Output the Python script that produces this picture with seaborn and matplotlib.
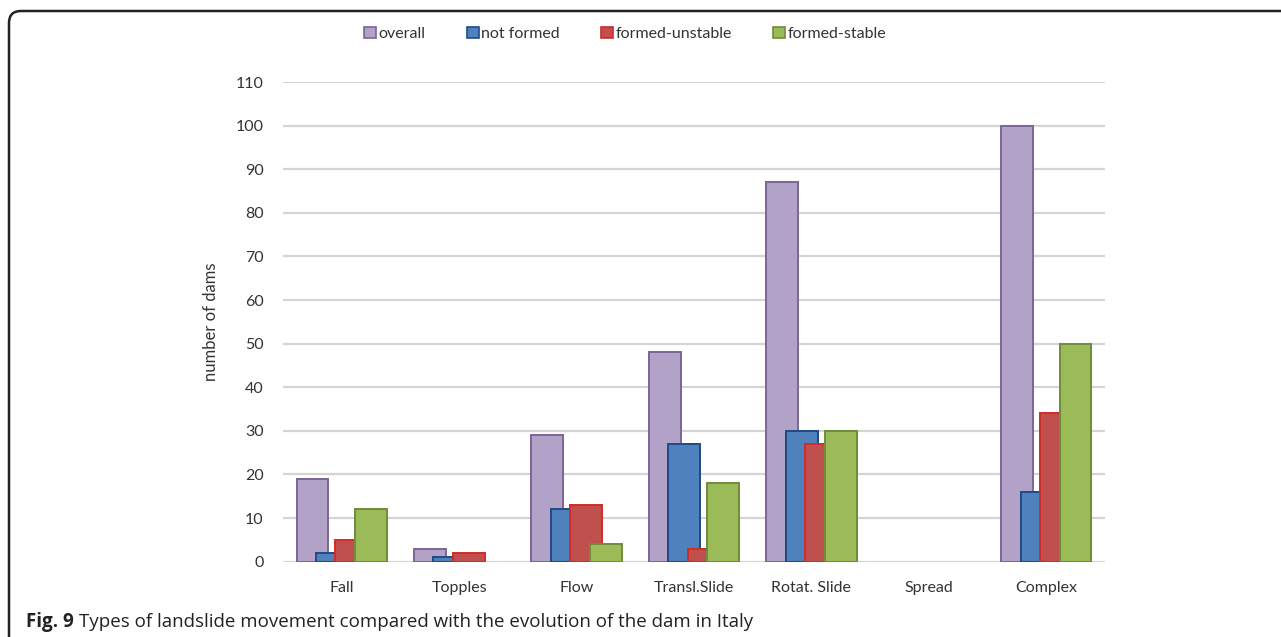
import matplotlib
matplotlib.use("Agg")
import matplotlib.pyplot as plt
from matplotlib.patches import FancyBboxPatch
from matplotlib.transforms import IdentityTransform
import seaborn as sns
import pandas as pd

# Landslide types and dam counts per evolution class
categories = ["Fall", "Topples", "Flow", "Transl.Slide", "Rotat. Slide", "Spread", "Complex"]
series_names = ["overall", "not formed", "formed-unstable", "formed-stable"]
overall = [19, 3, 29, 48, 87, 0, 100]
not_formed = [2, 1, 12, 27, 30, 0, 16]
formed_unstable = [5, 2, 13, 3, 27, 0, 34]
formed_stable = [12, 0, 4, 18, 30, 0, 50]
y_ticks = list(range(0, 111, 10))

face_colors = ["#B3A2C7", "#4F81BD", "#C0504D", "#9BBB59"]
edge_colors = ["#7B6597", "#1F4A86", "#D42A26", "#6F8C3A"]

rows = []
for name, vals in zip(series_names, [overall, not_formed, formed_unstable, formed_stable]):
    for cat, v in zip(categories, vals):
        rows.append({"type": cat, "series": name, "count": v})
df = pd.DataFrame(rows)

sns.set_theme(style="white")
plt.rcParams["font.family"] = ["Lato", "DejaVu Sans"]

W, H = 1281, 637
fig = plt.figure(figsize=(W / 100, H / 100), dpi=100)
ax = fig.add_axes([283 / W, 1 - 561.7 / H, (1105 - 283) / W, (561.7 - 82) / H])

sns.barplot(data=df, x="type", y="count", hue="series", order=categories,
            hue_order=series_names, palette=face_colors, saturation=1, dodge=True,
            width=0.664, errorbar=None, ax=ax, legend=False, zorder=3)

# Excel-style overlapping bars: keep centres, widen each bar
bar_w = 0.272
for container, ec in zip(ax.containers, edge_colors):
    for patch in container.patches:
        cx = patch.get_x() + patch.get_width() / 2
        patch.set_x(cx - bar_w / 2)
        patch.set_width(bar_w)
        patch.set_edgecolor(ec)
        patch.set_linewidth(1.4)
        if patch.get_height() == 0:
            patch.set_visible(False)

ax.set_xlim(-0.5, len(categories) - 0.5)
ax.set_ylim(0, 110)
ax.set_yticks(y_ticks)
ax.yaxis.grid(True, color="#D4D4D4", linewidth=1.6, zorder=0)
ax.set_axisbelow(True)
for s in ax.spines.values():
    s.set_visible(False)
ax.tick_params(axis="both", length=0, labelsize=11.5, colors="#333333")
ax.tick_params(axis="y", pad=14)
ax.tick_params(axis="x", pad=14)
ax.set_xlabel("")
ax.set_ylabel("number of dams", fontsize=12, color="#333333", labelpad=12)

handles = [plt.Rectangle((0, 0), 1, 1, facecolor=fc, edgecolor=ec, linewidth=1.2)
           for fc, ec in zip(face_colors, edge_colors)]
fig.legend(handles, series_names, loc="center", bbox_to_anchor=(0.488, 1 - 34 / H),
           ncol=4, frameon=False, fontsize=11.5, handlelength=0.75, handleheight=0.75,
           handletextpad=0.15, columnspacing=2.6, labelcolor="#333333")

# Rounded frame around the figure panel
frame = FancyBboxPatch((9, -60), W + 200, (H - 11) + 60,
                       boxstyle="round,pad=0,rounding_size=12",
                       transform=IdentityTransform(), facecolor="none",
                       edgecolor="#222222", linewidth=1.8)
fig.patches.append(frame)

# Caption
cap_y = 1 - 622 / H
t1 = fig.text(26 / W, cap_y, "Fig. 9", fontsize=13.5, fontweight="bold",
              family=["Open Sans", "DejaVu Sans"], va="center", color="#222222")
renderer = fig.canvas.get_renderer()
bb = t1.get_window_extent(renderer=renderer)
fig.text((bb.x1 + 5) / W, cap_y,
         "Types of landslide movement compared with the evolution of the dam in Italy",
         fontsize=13.5, family=["Open Sans", "DejaVu Sans"], va="center", color="#222222")

fig.savefig("out.png", dpi=100)
